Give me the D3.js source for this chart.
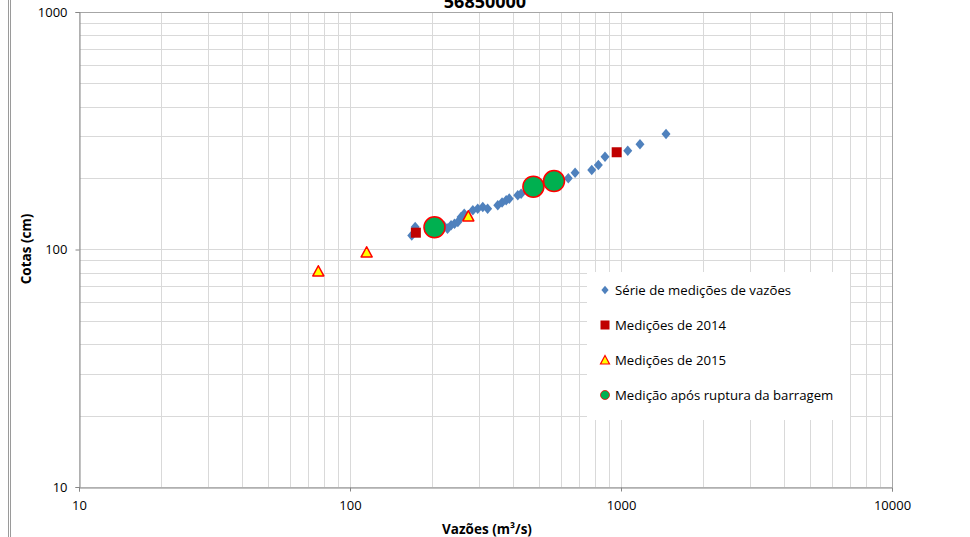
<!DOCTYPE html>
<html>
<head>
<meta charset="utf-8">
<script src="https://cdn.jsdelivr.net/npm/d3@7"></script>
<style>
  html, body { margin: 0; padding: 0; background: #fff; }
  svg { display: block; }
  text { font-family: "Open Sans", "Noto Sans", sans-serif; fill: #000; }
</style>
</head>
<body>
<svg id="chart" width="970" height="537"></svg>
<script>
// ---- data ----
const title = "56850000";
const xTickLabels = [10, 100, 1000, 10000];
const yTickLabels = [10, 100, 1000];

const serieQ = [169, 174, 222, 229, 236, 243, 250, 257, 264, 284, 296, 309, 322, 351, 364, 377, 387, 416, 428, 639, 677, 780, 825, 873, 1059, 1175, 1466];
const serieH = [114.5, 124.4, 125.7, 122.4, 126.5, 128.4, 130.6, 137.1, 141.5, 146.3, 148.5, 151.0, 148.5, 153.5, 157.8, 161.2, 163.7, 169.1, 171.8, 199.4, 210.5, 216.1, 226.9, 245.9, 260.6, 277.3, 306.4];

const q2014 = [175, 964];
const h2014 = [117.7, 256.7];

const q2015 = [76.4, 115.2, 273.3];
const h2015 = [80.6, 96.9, 137.4];

const qRuptura = [205, 475, 566];
const hRuptura = [124.0, 183.8, 194.2];

const legendLabels = [
  "Série de medições de vazões",
  "Medições de 2014",
  "Medições de 2015",
  "Medição após ruptura da barragem"
];

// ---- chart ----
(function () {
const svg = d3.select("#chart");
const pL = 79, pR = 892, pT = 12, pB = 487;

const x = d3.scaleLog().domain([10, 10000]).range([pL, pR]);
const y = d3.scaleLog().domain([10, 1000]).range([pB, pT]);

// outer chart frame (double line at the left)
svg.append("line").attr("x1", 8.5).attr("x2", 8.5).attr("y1", 0).attr("y2", 537)
  .attr("stroke", "#9a9a9a").attr("stroke-width", 1);
svg.append("line").attr("x1", 10.5).attr("x2", 10.5).attr("y1", 0).attr("y2", 537)
  .attr("stroke", "#9a9a9a").attr("stroke-width", 1);

// gridlines
const grid = svg.append("g").attr("class", "grid");
grid.selectAll("line.vx").data(x.ticks()).join("line")
  .attr("x1", d => Math.round(x(d)) + 0.5).attr("x2", d => Math.round(x(d)) + 0.5)
  .attr("y1", pT).attr("y2", pB)
  .attr("stroke", "#d9d9d9").attr("stroke-width", 1);
grid.selectAll("line.hy").data(y.ticks()).join("line")
  .attr("y1", d => Math.round(y(d)) + 0.5).attr("y2", d => Math.round(y(d)) + 0.5)
  .attr("x1", pL).attr("x2", pR)
  .attr("stroke", "#d9d9d9").attr("stroke-width", 1);

// plot border (top/right)
svg.append("path")
  .attr("d", `M${pL + 0.5},${pT + 0.5}H${pR + 0.5}V${pB + 0.5}`)
  .attr("fill", "none").attr("stroke", "#a6a6a6");

// axes
const fmt = d => String(d);
const xAxis = d3.axisBottom(x).tickValues(xTickLabels).tickFormat(fmt).tickSize(4).tickPadding(9);
const yAxis = d3.axisLeft(y).tickValues(yTickLabels).tickFormat(fmt).tickSize(4).tickPadding(8);

const gx = svg.append("g").attr("transform", `translate(0,${pB + 0.5})`).call(xAxis);
const gy = svg.append("g").attr("transform", `translate(${pL + 0.5},0)`).call(yAxis);
[gx, gy].forEach(g => {
  g.select(".domain").attr("stroke", "#868686");
  g.selectAll(".tick line").attr("stroke", "#868686");
  g.selectAll(".tick text").style("font-family", "'Open Sans', sans-serif")
    .style("font-size", "13px").attr("fill", "#000");
});

// series
const plot = svg.append("g");

const diamond = "M0,-5.3L4.5,0L0,5.3L-4.5,0Z";
plot.selectAll("path.serie").data(serieQ.map((q, i) => [q, serieH[i]])).join("path")
  .attr("d", diamond)
  .attr("transform", d => `translate(${x(d[0])},${y(d[1])})`)
  .attr("fill", "#4f81bd");

plot.selectAll("rect.m2014").data(q2014.map((q, i) => [q, h2014[i]])).join("rect")
  .attr("x", d => x(d[0]) - 5).attr("y", d => y(d[1]) - 5)
  .attr("width", 10).attr("height", 10)
  .attr("fill", "#c00000");

const tri = "M0,-6L5.5,4.2L-5.5,4.2Z";
plot.selectAll("path.m2015").data(q2015.map((q, i) => [q, h2015[i]])).join("path")
  .attr("d", tri)
  .attr("transform", d => `translate(${x(d[0])},${y(d[1])})`)
  .attr("fill", "#ffff00").attr("stroke", "#ff0000").attr("stroke-width", 1.5)
  .attr("stroke-linejoin", "round");

plot.selectAll("circle.rup").data(qRuptura.map((q, i) => [q, hRuptura[i]])).join("circle")
  .attr("cx", d => x(d[0])).attr("cy", d => y(d[1])).attr("r", 10.5)
  .attr("fill", "#00b050").attr("stroke", "#ff0000").attr("stroke-width", 1.5);

// legend
const lg = svg.append("g");
lg.append("rect").attr("x", 587).attr("y", 272).attr("width", 263).attr("height", 148).attr("fill", "#fff");
const ly = [290, 325, 360, 395];
const lx = 605;
lg.append("path").attr("d", "M0,-4.2L3.6,0L0,4.2L-3.6,0Z").attr("transform", `translate(${lx},${ly[0]})`).attr("fill", "#4f81bd");
lg.append("rect").attr("x", lx - 4.5).attr("y", ly[1] - 4.5).attr("width", 9).attr("height", 9).attr("fill", "#c00000");
lg.append("path").attr("d", "M0,-5L4.5,3.5L-4.5,3.5Z").attr("transform", `translate(${lx},${ly[2] + 0.5})`)
  .attr("fill", "#ffff00").attr("stroke", "#ff0000").attr("stroke-width", 1.2);
lg.append("circle").attr("cx", lx).attr("cy", ly[3]).attr("r", 4.5)
  .attr("fill", "#00b050").attr("stroke", "#ff0000").attr("stroke-width", 0.8);
lg.selectAll("text.lt").data(legendLabels).join("text")
  .attr("x", 615).attr("y", (d, i) => ly[i]).attr("dy", "0.35em")
  .style("font-size", "13.2px").text(d => d);

// title & axis titles
svg.append("text").attr("x", 485).attr("y", 8).attr("text-anchor", "middle")
  .style("font-size", "18px").style("font-weight", "bold").text(title);
svg.append("text").attr("transform", "translate(31,249) rotate(-90)").attr("text-anchor", "middle")
  .style("font-size", "13.5px").style("font-weight", "bold").text("Cotas (cm)");
svg.append("text").attr("x", 487).attr("y", 534).attr("text-anchor", "middle")
  .style("font-size", "13.5px").style("font-weight", "bold").text("Vazões (m³/s)");
})();
</script>
</body>
</html>
